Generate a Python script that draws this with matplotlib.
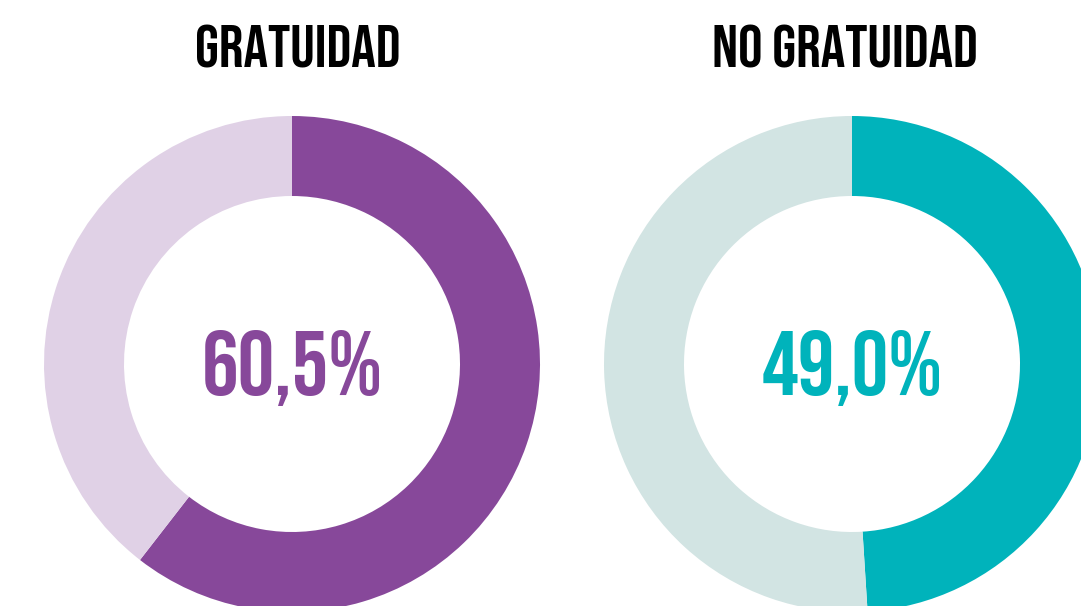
import matplotlib
matplotlib.use("Agg")
import matplotlib.pyplot as plt

# Share of each group, in percent
titles = ["GRATUIDAD", "NO GRATUIDAD"]
values = [60.5, 49.0]
labels = ["60,5%", "49,0%"]
dark_colors = ["#87489A", "#00B3BB"]
light_colors = ["#E0D1E6", "#D2E4E3"]

W, H = 1081, 606
fig = plt.figure(figsize=(W / 100, H / 100), dpi=100)
ax = fig.add_axes([0, 0, 1, 1])

centers_x = [292, 852]
title_x = [298, 845]
center_y = H - 364
outer_r = 248
ring_w = 80

font = ["Bebas Neue", "DejaVu Sans"]

for cx, tx, title, val, lab, dc, lc in zip(centers_x, title_x, titles, values,
                                            labels, dark_colors, light_colors):
    ax.pie([val, 100 - val], colors=[dc, lc], startangle=90, counterclock=False,
           center=(cx, center_y), radius=outer_r,
           wedgeprops=dict(width=ring_w, linewidth=0))
    ax.text(cx, H - 395, lab, ha="center", va="baseline", color=dc,
            fontsize=66, family=font)
    ax.text(tx, H - 67, title, ha="center", va="baseline", color="black",
            fontsize=44, family=font)

ax.set_xlim(0, W)
ax.set_ylim(0, H)
ax.set_aspect("equal")
ax.axis("off")

fig.savefig("out.png", dpi=100)
